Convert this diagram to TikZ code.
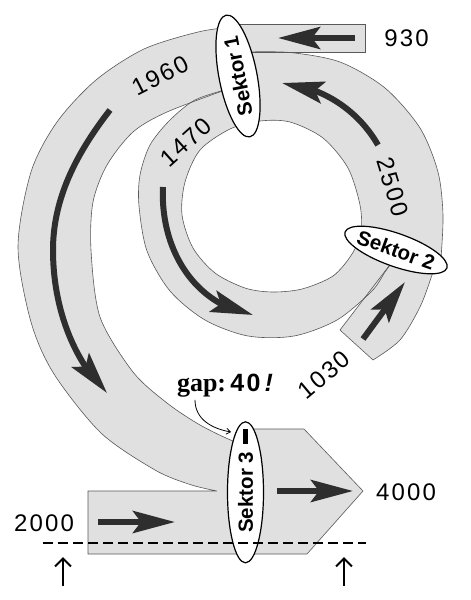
\documentclass[tikz,border=0pt]{standalone}
\usepackage{fontspec}
\setmainfont{Liberation Sans}
\newfontfamily\numfont[LetterSpace=9]{Liberation Sans}
\newfontfamily\gapserif{Liberation Serif}
\usetikzlibrary{arrows.meta, bending, shapes.geometric}
\definecolor{bandgray}{gray}{0.88}
\definecolor{flowgray}{gray}{0.18}
\definecolor{rimgray}{gray}{0.35}
\tikzset{
  band/.style={fill=bandgray},
  rim/.style={draw=rimgray, line width=0.6pt},
  flow/.style={draw=flowgray, line width=6pt, -{Stealth[length=42pt, width=22pt, inset=8pt]}},
  sektor/.style={ellipse, draw, fill=white, line width=1.2pt, inner sep=0pt},
  sektortext/.style={inner sep=0pt, font=\fontsize{20.5}{20.5}\selectfont\bfseries},
  amount/.style={inner sep=0pt, font=\numfont\fontsize{24}{24}\selectfont}
}
\begin{document}
\begin{tikzpicture}[x=1pt, y=-1pt]
        \useasboundingbox (0,0) rectangle (471,600);

        % Bands
        \fill[band] (232,24) rectangle (365,52);
        \fill[band, even odd rule] plot[smooth] coordinates {(228,89) (195,100) (170,120) (150,145) (140,175) (139,206) (147,251) (170,291) (205,320) (248,336) (294,336) (337,320) (372,291) (385,272) (393,261)}
            -- (436,264) -- plot[smooth] coordinates {(441,258) (443,215) (438,172) (420,128) (385,88) (340,62) (290,52.5) (245,52)} -- cycle
            plot[smooth cycle] coordinates {(290,122) (323,138) (348,168) (360,205) (361,232) (352,254) (333,276) (302,289) (272,292) (245,288) (215,273) (193,248) (182,215) (185,182) (200,150) (230,129) (260,121)};
        \fill[band] (392,262) -- (340,330) -- plot[smooth] coordinates {(373,360) (400,340) (420,307) (432,275) (435,264)} -- cycle;
        \fill[band] (88,554) -- (88,491)
            -- plot[smooth] coordinates {(217,491) (190,484.5) (155,470) (101,433) (54,374) (31,322) (18,247) (31,172) (57,122) (96,80) (144,49) (198,32) (232,27)}
            -- plot[smooth] coordinates {(228,89) (167,112) (133,132) (107,165) (93,202) (91,250) (100,317) (133,372) (167,403) (200,425) (233,441) (245,442)}
            -- (245,429) -- (304,429) -- (363,491) -- (307,554) -- cycle;

        % Band outlines
        \draw[rim] (232,24) -- (365,24) -- (365,52) -- (245,52);
        \draw[rim] plot[smooth] coordinates {(245,52) (290,52.5) (340,62) (385,88) (420,128) (438,172) (443,215) (441,258)};
        \draw[rim] plot[smooth] coordinates {(228,89) (195,100) (170,120) (150,145) (140,175) (139,206) (147,251) (170,291) (205,320) (248,336) (294,336) (337,320) (372,291) (385,272) (393,261)};
        \draw[rim] plot[smooth cycle] coordinates {(290,122) (323,138) (348,168) (360,205) (361,232) (352,254) (333,276) (302,289) (272,292) (245,288) (215,273) (193,248) (182,215) (185,182) (200,150) (230,129) (260,121)};
        \draw[rim] (392,262) -- (340,330) -- plot[smooth] coordinates {(373,360) (400,340) (420,307) (432,275) (435,264)};
        \draw[rim] (245,429) -- (304,429) -- (363,491) -- (307,554) -- (88,554) -- (88,491)
            -- plot[smooth] coordinates {(217,491) (190,484.5) (155,470) (101,433) (54,374) (31,322) (18,247) (31,172) (57,122) (96,80) (144,49) (198,32) (232,27)};
        \draw[rim] plot[smooth] coordinates {(228,89) (167,112) (133,132) (107,165) (93,202) (91,250) (100,317) (133,372) (167,403) (200,425) (233,441) (245,442)};

        % Flow arrows
        \draw[flow] (355,38) -- (278,38);
        \draw[flow] (98,522) -- (175,522);
        \draw[flow] (277,491) -- (353,491);
        \draw[flow] (363,339) -- (405,282);
        \draw[flow] (110,110) .. controls (75,155) and (53,200) .. (53,250) .. controls (53,310) and (75,362) .. (107,393);
        \draw[flow] (163,187) .. controls (160,250) and (195,305) .. (253,315);
        \draw[flow] (378,145) .. controls (358,110) and (322,86.5) .. (282,83);

        % Sectors
        \node[sektor, minimum width=124pt, minimum height=38pt, rotate=101] (s1) at (238,76) {};
        \node[sektortext, rotate=101] (s1txt) at (s1.center) {Sektor 1};
        \node[sektor, minimum width=108pt, minimum height=33pt, rotate=-19.5] (s2) at (396,250) {};
        \node[sektortext, rotate=-20] (s2txt) at (s2.center) {Sektor 2};
        \node[sektor, minimum width=141pt, minimum height=36pt, rotate=90] (s3) at (245.5,492.3) {};
        \node[sektortext, rotate=90] (s3txt) at (s3.center) {Sektor 3};
        \fill[black] (243,429) rectangle (248,444);

        % Amounts
        \node[amount] (q930) at (406.5,38.5) {930};
        \node[amount] (q2000) at (44,523) {2000};
        \node[amount] (q4000) at (406,492) {4000};
        \node[amount, rotate=27] (q1960) at (160,75.5) {1960};
        \node[amount, rotate=42] (q1470) at (186,142) {1470};
        \node[amount, rotate=-73] (q2500) at (393,187) {2500};
        \node[amount, rotate=40] (q1030) at (324,375) {1030};

        % Gap
        \node[inner sep=0pt, anchor=base] (gap) at (225,391) {\gapserif\bfseries\fontsize{26}{26}\selectfont gap:\,{\numfont\bfseries\fontsize{25}{25}\selectfont 40\,\itshape!}};
        \coordinate (gapend) at (231,432);
        \draw[line width=0.8pt, -{Straight Barb[length=4pt, width=6pt]}] ([shift={(-30pt,-3pt)}]gap.south) .. controls +(0,20) and +(-18,-3) .. (gapend);

        % Section line
        \draw[line width=1.3pt, dash pattern=on 10pt off 5pt] (43,543) -- (366,543);
        \coordinate (upA) at (63,586);
        \coordinate (upB) at (344,586);
        \draw[line width=2pt, -{Straight Barb[length=8pt, width=16pt]}] (upA) -- ++(0,-29);
        \draw[line width=2pt, -{Straight Barb[length=8pt, width=16pt]}] (upB) -- ++(0,-29);
    \end{tikzpicture}
\end{document}
